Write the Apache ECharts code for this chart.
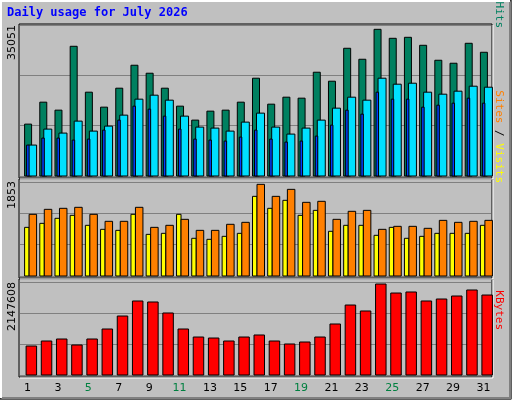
<!DOCTYPE html><html><head><meta charset="utf-8">
<script src="https://cdn.jsdelivr.net/npm/echarts@6/dist/echarts.min.js"></script>
<style>html,body{margin:0;padding:0;background:#c0c0c0}#c{width:512px;height:400px}</style></head><body><div id="c"></div>
<script>
const days=['1','2','3','4','5','6','7','8','9','10','11','12','13','14','15','16','17','18','19','20','21','22','23','24','25','26','27','28','29','30','31'];
const weekend=['4','5','11','12','18','19','25','26'];
const hits=[12044,17140,15287,30110,19456,15982,20382,25710,23857,20382,16213,12971,15055,15287,17140,22699,16676,18298,18066,24088,22004,29647,27100,34048,31963,32195,30342,26868,26173,30805,28720];
const files=[7180,10886,9960,12739,10423,11581,14129,17834,18761,17603,13897,11349,11118,10423,12507,14592,11349,9728,11118,12971,15750,18298,17603,22699,21309,21540,19456,18993,19688,20846,20614];
const pages=[7180,8801,8801,8338,8570,10654,12971,16213,15519,13897,10886,8570,8338,8107,9033,10654,8570,7875,8107,9265,11813,15287,14360,19456,17834,17834,15982,16445,16908,18066,16908];
const visits=[1216,1314,1334,1354,1216,1078,1078,1354,959,999,1117,900,900,1019,1058,1807,1570,1708,1452,1472,1117,1275,1294,920,979,979,940,1097,1058,1078,1097];
const sites=[959,1038,1137,1196,999,920,900,1216,821,841,1216,743,723,782,841,1570,1334,1492,1196,1294,881,999,999,802,959,743,782,841,841,841,999];
const kbytes=[669000,785000,831000,693000,831000,1062000,1362000,1709000,1686000,1432000,1062000,877000,854000,785000,877000,924000,785000,716000,762000,877000,1178000,1616000,1478000,2101000,1893000,1917000,1709000,1755000,1824000,1963000,1847000];
const maxHits=35051, maxVisits=1853, maxKB=2147608;

function barSeries(data,grid,x0,x1,color){
  return {type:'custom',xAxisIndex:grid,yAxisIndex:grid,
    data:data.map((v,i)=>[i,v]),
    renderItem:function(p,api){
      const c=api.coord([api.value(0),api.value(1)]);
      const b=api.coord([api.value(0),0]);
      return {type:'rect',shape:{x:c[0]+x0,y:c[1],width:x1-x0,height:b[1]-c[1]},
        style:{fill:color,stroke:'#000',lineWidth:1}};
    }};
}
const grids=[{left:20,right:21,top:25,height:151},{left:20,right:21,top:182,height:94},{left:20,right:21,top:282,height:93}];
const maxes=[maxHits,maxVisits,maxKB];
const xAxis=grids.map((g,i)=>({type:'category',gridIndex:i,data:days,
  axisLine:{show:false},axisTick:{show:false},
  axisLabel:{show:i===2,margin:8,fontFamily:'DejaVu Sans',fontSize:11,
    color:(v)=>weekend.includes(v)?'#008040':'#000'}}));
const yAxis=grids.map((g,i)=>({type:'value',gridIndex:i,min:0,max:maxes[i],interval:maxes[i]/3,
  axisLabel:{show:false},axisLine:{show:false},axisTick:{show:false},
  splitLine:{lineStyle:{color:'#808080',width:1}}}));
const frameRects=[[19,24,473,154],[19,179,473,99],[19,279,473,98]];
const graphic=[
  {type:'rect',shape:{x:0,y:0,width:511,height:399},style:{fill:'none',stroke:'#000',lineWidth:1},silent:true},
  {type:'polyline',shape:{points:[[1,398],[1,1],[510,1]]},style:{stroke:'#fff',lineWidth:2,fill:'none'}},
  {type:'polyline',shape:{points:[[2,398],[510,398],[510,2]]},style:{stroke:'#808080',lineWidth:2,fill:'none'}},
  {type:'text',left:7,top:7,style:{text:'Daily usage for July 2026',fill:'#0000ff',font:'bold 12px "DejaVu Sans Mono"'}},
  ...frameRects.map(r=>({type:'rect',z:-1,shape:{x:r[0],y:r[1],width:r[2],height:r[3]},style:{fill:'none',stroke:'#000',lineWidth:1}})),
  ...frameRects.map(r=>({type:'polyline',z:-1,shape:{points:[[r[0]+1,r[1]+r[3]+1],[r[0]+r[2]+1,r[1]+r[3]+1],[r[0]+r[2]+1,r[1]+1]]},style:{stroke:'#fff',fill:'none',lineWidth:1}})),
  {type:'text',x:12,y:25,rotation:Math.PI/2,style:{text:String(maxHits),fill:'#000',font:'11px "DejaVu Sans"',align:'right',verticalAlign:'middle'}},
  {type:'text',x:12,y:181,rotation:Math.PI/2,style:{text:String(maxVisits),fill:'#000',font:'11px "DejaVu Sans"',align:'right',verticalAlign:'middle'}},
  {type:'text',x:12,y:282,rotation:Math.PI/2,style:{text:String(maxKB),fill:'#000',font:'11px "DejaVu Sans"',align:'right',verticalAlign:'middle'}},
  {type:'text',x:499,y:28,rotation:-Math.PI/2,style:{rich:{h:{fill:'#008060'},s:{fill:'#000'},f:{fill:'#0040ff'},p:{fill:'#00c0ff'}},text:'{p|Pages}{s| / }{f|Files}{s| / }{h|Hits}',font:'11px "DejaVu Sans Mono"',align:'right',verticalAlign:'middle'}},
  {type:'text',x:499,y:183,rotation:-Math.PI/2,style:{rich:{a:{fill:'#ff8000'},s:{fill:'#000'},b:{fill:'#ffff00'}},text:'{a|Sites}{s| / }{b|Visits}',font:'11px "DejaVu Sans Mono"',align:'right',verticalAlign:'middle'}},
  {type:'text',x:499,y:330,rotation:-Math.PI/2,style:{text:'KBytes',fill:'#ff0000',font:'11px "DejaVu Sans Mono"',align:'right',verticalAlign:'middle'}}
];
const chart=echarts.init(document.getElementById('c'));
chart.setOption({backgroundColor:'#c0c0c0',animation:false,grid:grids,xAxis,yAxis,graphic,
  series:[
    barSeries(hits,0,-3,4,'#008060'),
    barSeries(files,0,1,9,'#00e0ff'),
    barSeries(pages,0,-1,1.5,'#0040ff'),
    barSeries(sites,1,-3,1.5,'#ffff00'),
    barSeries(visits,1,1.5,9,'#ff8000'),
    barSeries(kbytes,2,-1.5,9,'#ff0000')
  ]});
</script></body></html>
